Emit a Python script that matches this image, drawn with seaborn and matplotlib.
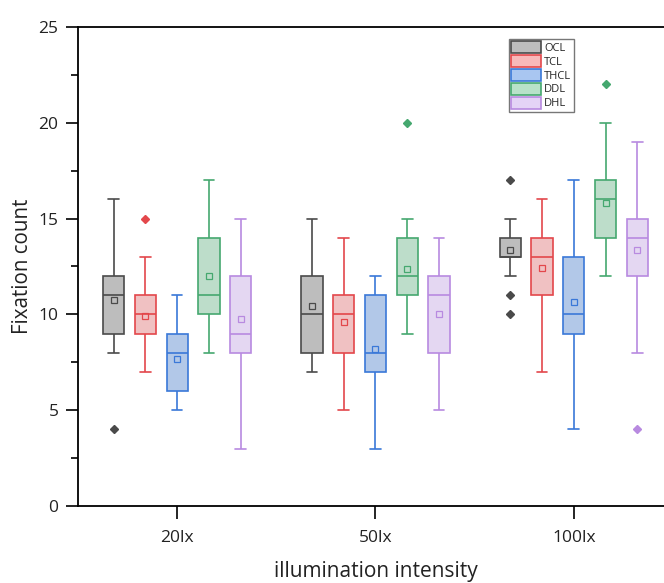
import pandas as pd
import matplotlib.pyplot as plt
import seaborn as sns
from matplotlib.patches import Patch
from matplotlib.ticker import MultipleLocator

# 光照强度 / 光源类型
illum = ['20lx', '50lx', '100lx']
lights = ['OCL', 'TCL', 'THCL', 'DDL', 'DHL']

# 每组 21 个被试的注视次数（20lx, 50lx, 100lx）
ocl = [
    [4, 8, 8, 9, 9, 9, 10, 10, 11, 11, 11, 11, 11, 12, 12, 12, 12, 13, 13, 14, 16],
    [7, 7, 8, 8, 8, 8, 8, 9, 10, 10, 10, 11, 11, 12, 12, 12, 12, 13, 14, 14, 15],
    [10, 11, 12, 12, 13, 13, 13, 13, 13, 13, 13, 13, 14, 14, 14, 14, 14, 14, 15, 15, 17],
]
tcl = [
    [7, 7, 7, 9, 9, 9, 9, 9, 9, 10, 10, 10, 10, 10, 11, 11, 11, 11, 11, 13, 15],
    [5, 6, 7, 8, 8, 8, 9, 9, 10, 10, 10, 10, 10, 11, 11, 11, 11, 11, 11, 12, 14],
    [7, 8, 10, 11, 11, 11, 11, 12, 13, 13, 13, 13, 13, 14, 14, 14, 14, 14, 14, 15, 16],
]
thcl = [
    [5, 5, 5, 6, 6, 6, 6, 7, 7, 8, 8, 8, 8, 9, 9, 9, 9, 9, 10, 10, 11],
    [3, 4, 5, 7, 7, 7, 7, 7, 8, 8, 8, 8, 8, 9, 9, 11, 11, 11, 11, 11, 12],
    [4, 6, 8, 9, 9, 9, 9, 10, 10, 10, 10, 10, 11, 12, 12, 13, 13, 13, 14, 15, 17],
]
ddl = [
    [8, 9, 9, 10, 10, 10, 10, 11, 11, 11, 11, 12, 12, 13, 13, 14, 14, 15, 16, 16, 17],
    [9, 9, 9, 11, 11, 11, 11, 12, 12, 12, 12, 12, 12, 13, 13, 14, 14, 14, 14, 15, 20],
    [12, 12, 13, 14, 14, 14, 14, 15, 15, 16, 16, 16, 16, 17, 17, 17, 17, 17, 18, 20, 22],
]
dhl = [
    [3, 5, 6, 7, 8, 8, 8, 9, 9, 9, 9, 10, 11, 11, 11, 12, 13, 13, 14, 14, 15],
    [5, 6, 7, 8, 8, 8, 8, 9, 10, 10, 11, 11, 11, 11, 12, 12, 12, 12, 12, 13, 14],
    [4, 8, 9, 11, 12, 12, 13, 13, 14, 14, 14, 14, 15, 15, 15, 15, 15, 16, 16, 17, 19],
]

edge_colors = ['#4a4a4a', '#e3474b', '#3a78d8', '#45a86f', '#b88ae0']
fill_colors = ['#bdbdbd', '#f8b9ba', '#a9c6f1', '#b8e2c9', '#e4d3f6']

rows = []
for name, groups in zip(lights, [ocl, tcl, thcl, ddl, dhl]):
    for lx, vals in zip(illum, groups):
        for v in vals:
            rows.append((lx, name, v))
df = pd.DataFrame(rows, columns=['illum', 'light', 'count'])

sns.set_theme(style='ticks')
plt.rcParams['font.family'] = ['Open Sans', 'DejaVu Sans']

fig = plt.figure(figsize=(6.64, 5.83), dpi=100)
ax = fig.add_axes([0.1175, 0.132, 0.896, 0.822])

pal = dict(zip(lights, fill_colors))
for name, ec in zip(lights, edge_colors):
    sns.boxplot(data=df[df['light'] == name], x='illum', y='count', hue='light',
                order=illum, hue_order=lights, palette=pal, linecolor=ec,
                dodge=True, width=0.8, gap=0.33, linewidth=1.2, showmeans=True,
                meanprops=dict(marker='s', markerfacecolor='none',
                               markeredgecolor=ec, markersize=5, markeredgewidth=0.9),
                flierprops=dict(marker='D', markerfacecolor=ec, markeredgecolor=ec,
                                markersize=4.5),
                legend=False, ax=ax)

ax.set_ylim(0, 25)
ax.set_xlim(-0.5, 2.5)
ax.yaxis.set_major_locator(MultipleLocator(5))
ax.yaxis.set_minor_locator(MultipleLocator(2.5))
ax.tick_params(axis='both', which='major', length=9, width=1.2, color='black',
               labelsize=12.5, labelcolor='#222222')
ax.tick_params(axis='x', pad=8)
ax.tick_params(axis='y', pad=5)
ax.tick_params(axis='y', which='minor', length=5, width=1.2, color='black')
for sp in ax.spines.values():
    sp.set_linewidth(1.3)
    sp.set_color('black')

ax.set_ylabel('Fixation count', fontsize=14.8, labelpad=4, color='#222222')
ax.set_xlabel('illumination intensity', fontsize=15, labelpad=11, color='#222222')

handles = [Patch(facecolor=fc, edgecolor=ec, linewidth=1.2)
           for fc, ec in zip(fill_colors, edge_colors)]
ax.legend(handles, lights, loc='upper left', bbox_to_anchor=(0.724, 0.975),
          fontsize=8, handlelength=2.7, handleheight=1.25, handletextpad=0.3,
          labelspacing=0.12, borderpad=0.2, borderaxespad=0, fancybox=False,
          framealpha=1, edgecolor='#777777')

fig.savefig('out.png', dpi=100)
